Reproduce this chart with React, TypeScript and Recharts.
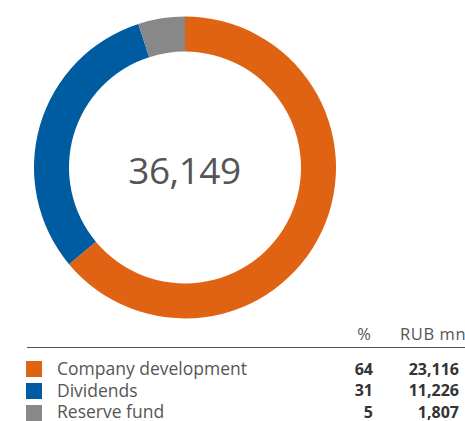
import React from "react";
import { PieChart, Pie, Cell } from "recharts";

const categories = ["Company development", "Dividends", "Reserve fund"];
const values = [23116, 11226, 1807];
const percents = [64, 31, 5];
const valueLabels = ["23,116", "11,226", "1,807"];
const totalLabel = "36,149";
const colors = ["#E06314", "#005CA0", "#888888"];
const headers = ["%", "RUB mn"];

const data = categories.map((name, i) => ({ name, value: values[i] }));

const FONT = "'Open Sans', sans-serif";

export default function App() {
  return (
    <div style={{ position: "absolute", left: 0, top: 0, width: 465, height: 421, background: "#fff", overflow: "hidden" }}>
      <PieChart width={465} height={421} margin={{ top: 0, right: 0, bottom: 0, left: 0 }}>
        <Pie
          data={data}
          dataKey="value"
          nameKey="name"
          cx={185}
          cy={167.5}
          innerRadius={116}
          outerRadius={151}
          startAngle={90}
          endAngle={-270}
          stroke="none"
          isAnimationActive={false}
        >
          {data.map((d, i) => (
            <Cell key={d.name} fill={colors[i]} />
          ))}
        </Pie>
      </PieChart>
      <svg width={465} height={421} style={{ position: "absolute", left: 0, top: 0 }}>
        <text x={184.5} y={183.5} textAnchor="middle" fill="#555" fontFamily={FONT} fontSize={37} letterSpacing={-0.5}>{totalLabel}</text>
        <text x={371} y={340} textAnchor="end" fill="#555" fontFamily={FONT} fontSize={16.5}>{headers[0]}</text>
        <text x={400} y={340} textAnchor="start" fill="#555" fontFamily={FONT} fontSize={16.5} letterSpacing={0.6}>{headers[1]}</text>
        <line x1={27} x2={465} y1={347.5} y2={347.5} stroke="#555" strokeWidth={1.2} />
        {categories.map((c, i) => (
          <g key={c}>
            <rect x={26} y={361 + i * 22} width={16} height={16} fill={colors[i]} />
            <text x={57} y={375 + i * 21.7} fill="#555" fontFamily={FONT} fontSize={17.5} letterSpacing={0}>{c}</text>
            <text x={373} y={374.5 + i * 21.7} textAnchor="end" fill="#333" fontFamily={FONT} fontSize={16} fontWeight={700}>{percents[i]}</text>
            <text x={459} y={374.5 + i * 21.7} textAnchor="end" fill="#333" fontFamily={FONT} fontSize={16} fontWeight={700}>{valueLabels[i]}</text>
          </g>
        ))}
      </svg>
    </div>
  );
}
